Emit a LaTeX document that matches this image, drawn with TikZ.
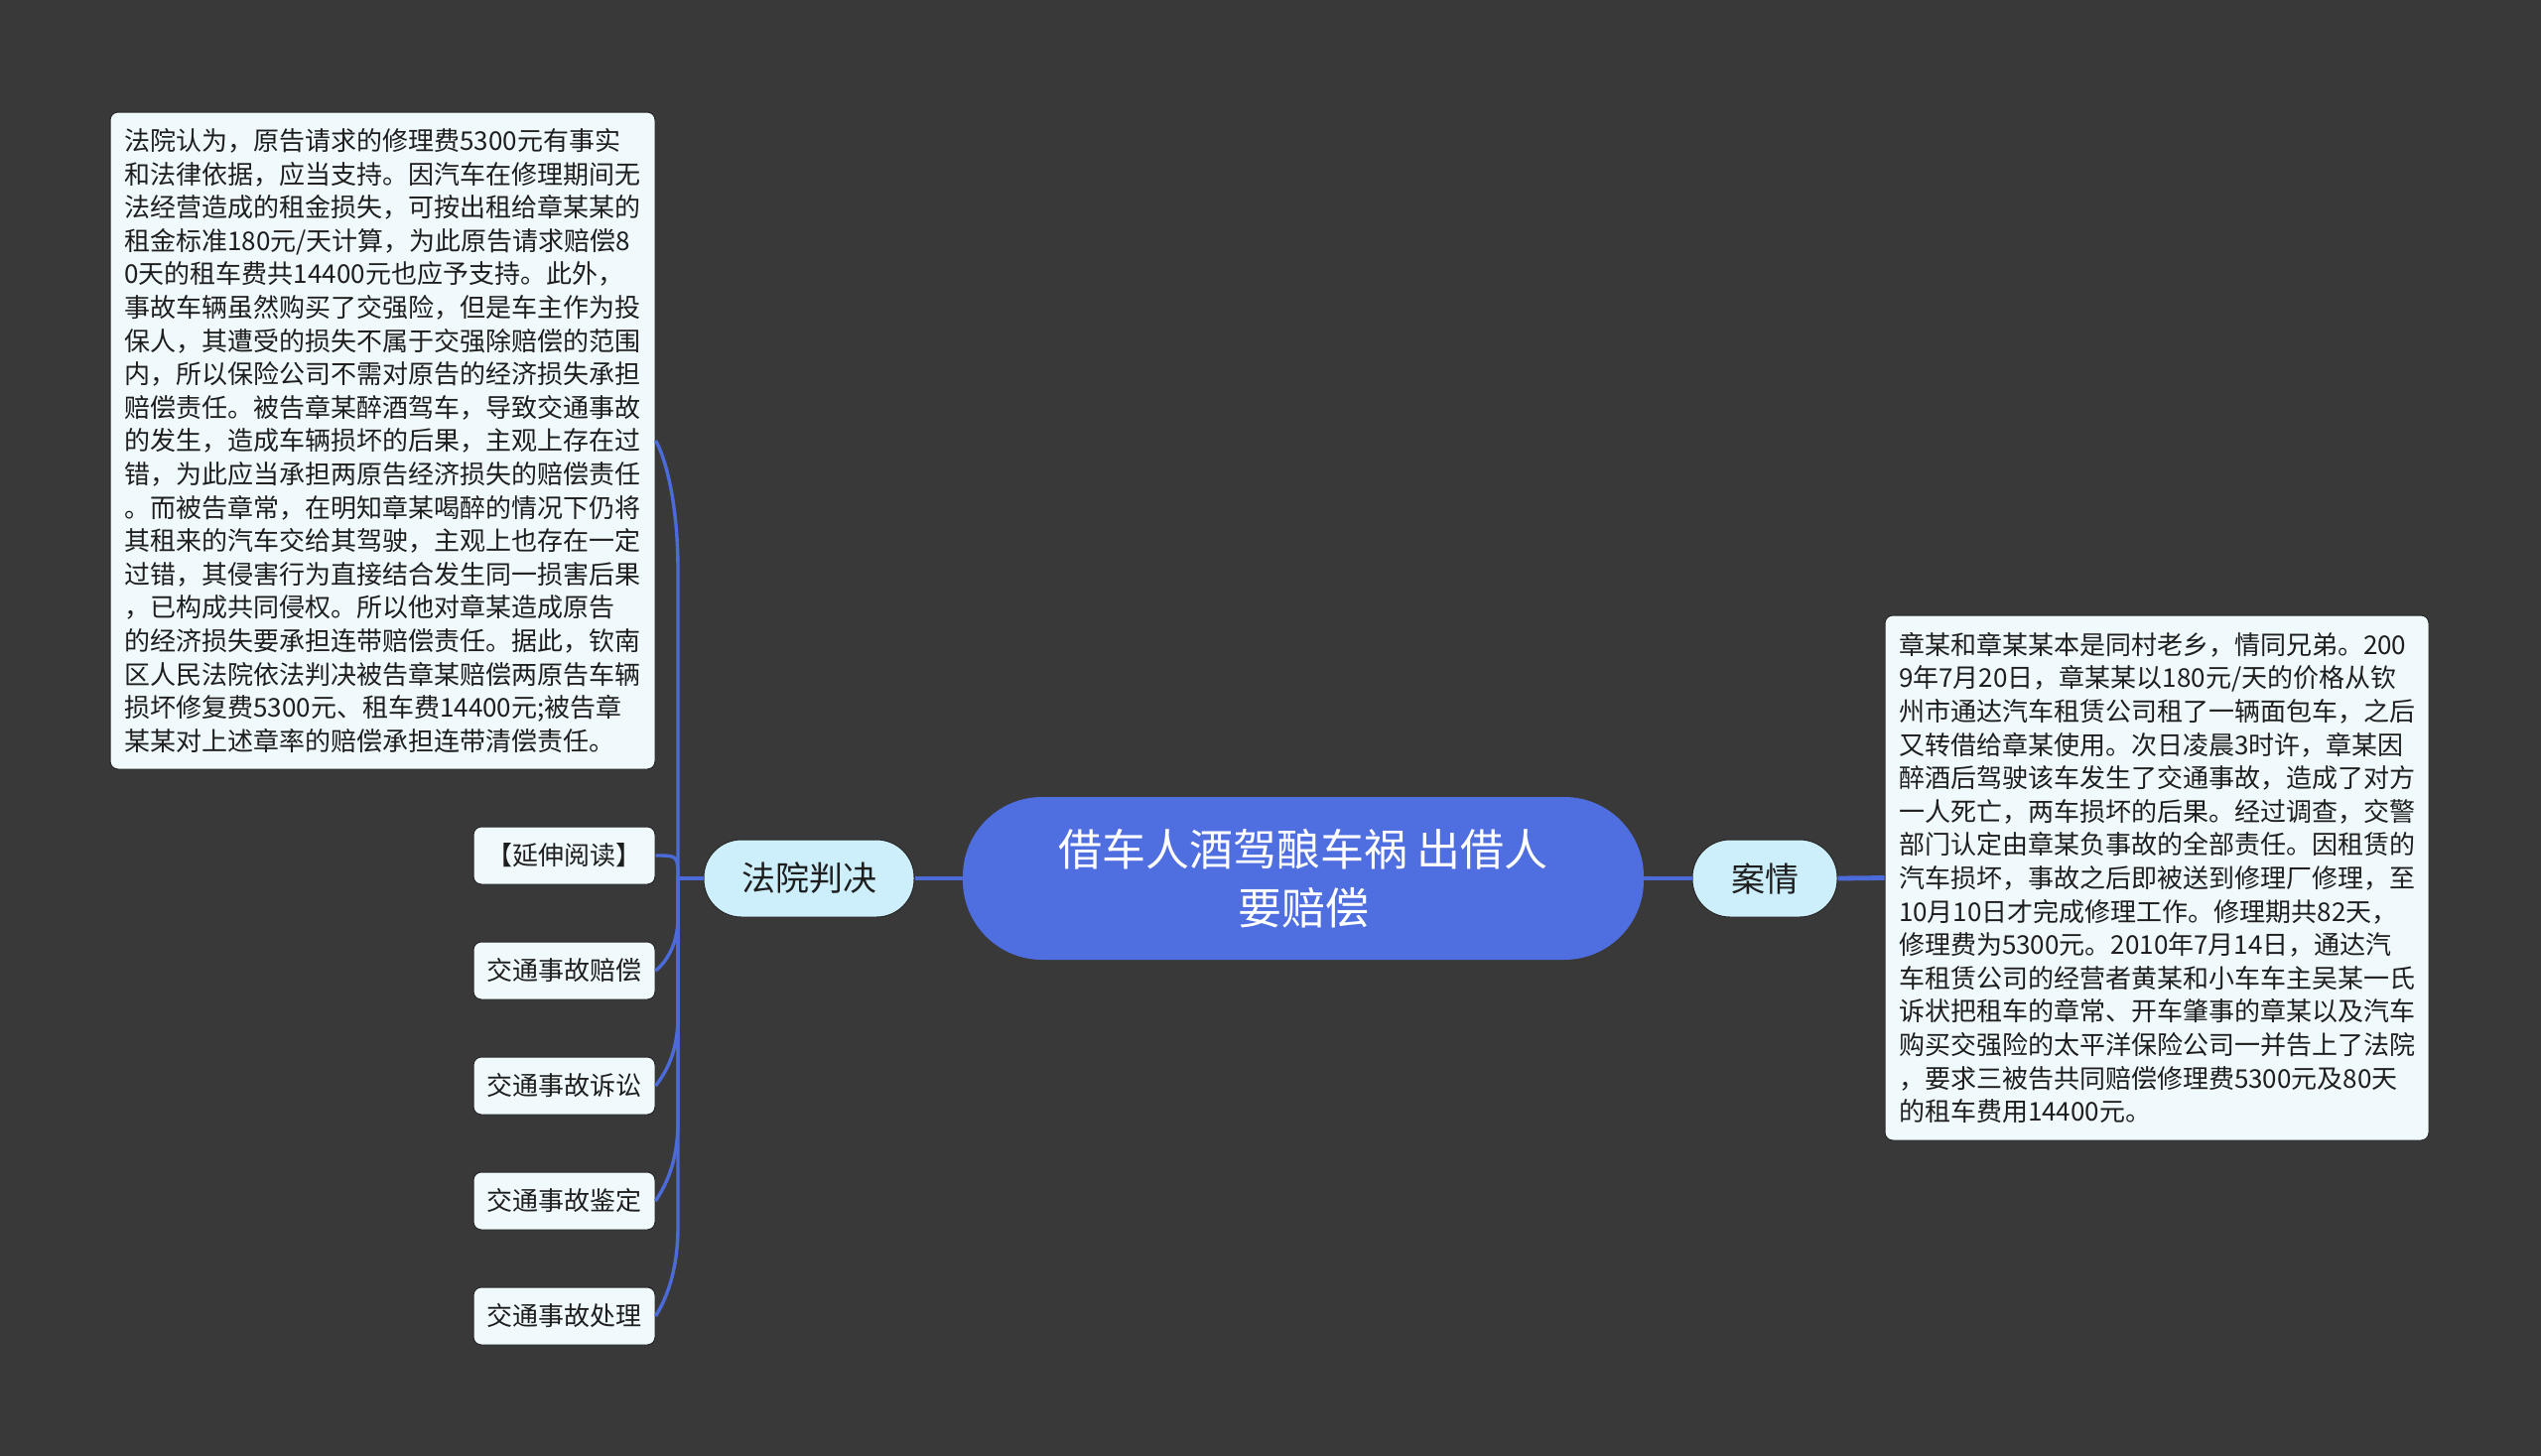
\documentclass[tikz,border=0pt]{standalone}
\usepackage{fontspec}
\setmainfont{Noto Sans CJK SC}
\definecolor{bg}{HTML}{3A393A}
\definecolor{leaffill}{HTML}{F0FAFD}
\definecolor{leafborder}{HTML}{262626}
\definecolor{lonefill}{HTML}{CDEFFC}
\definecolor{rootfill}{HTML}{4F6EE0}
\definecolor{connc}{HTML}{4B6BDB}
\definecolor{textc}{HTML}{1E1E1E}
\begin{document}
\begin{tikzpicture}[x=0.5pt,y=-0.5pt,
  leafbox/.style={draw=leafborder, line width=0.5pt, fill=leaffill, rounded corners=4pt,
    inner sep=0pt, minimum width=91.5pt, minimum height=29pt,
    font=\fontsize{13}{16.8}\selectfont, text=textc},
  bigbox/.style={leafbox, align=left},
  lonebox/.style={draw=leafborder, line width=0.5pt, fill=lonefill, rounded corners=19pt,
    minimum height=39pt, inner sep=0pt, font=\fontsize{17}{20}\selectfont, text=textc},
  rootbox/.style={fill=rootfill, rounded corners=40pt, minimum width=343pt, minimum height=82pt,
    inner sep=0pt, text=white, align=center, font=\fontsize{22}{29.5}\selectfont},
  mainconn/.style={draw=connc, line width=2.4pt},
  subconn/.style={draw=connc, line width=1.7pt}]
\fill[bg] (0,0) rectangle (2560,1467);
\useasboundingbox (0,0) rectangle (2560,1467);

\coordinate (bus) at (683,885);

\node[rootbox] (root) at (1313,885) {借车人酒驾酿车祸 出借人\\要赔偿};
\node[lonebox, minimum width=106pt] (fa) at (815,885) {法院判决};
\node[lonebox, minimum width=73pt] (an) at (1778,885) {案情};

\node[bigbox, minimum width=274.5pt, minimum height=331pt] (c0) at (385.5,444) {法院认为，原告请求的修理费5300元有事实\\
和法律依据，应当支持。因汽车在修理期间无\\
法经营造成的租金损失，可按出租给章某某的\\
租金标准180元/天计算，为此原告请求赔偿8\\
0天的租车费共14400元也应予支持。此外，\\
事故车辆虽然购买了交强险，但是车主作为投\\
保人，其遭受的损失不属于交强除赔偿的范围\\
内，所以保险公司不需对原告的经济损失承担\\
赔偿责任。被告章某醉酒驾车，导致交通事故\\
的发生，造成车辆损坏的后果，主观上存在过\\
错，为此应当承担两原告经济损失的赔偿责任\\
。而被告章常，在明知章某喝醉的情况下仍将\\
其租来的汽车交给其驾驶，主观上也存在一定\\
过错，其侵害行为直接结合发生同一损害后果\\
，已构成共同侵权。所以他对章某造成原告\\
的经济损失要承担连带赔偿责任。据此，钦南\\
区人民法院依法判决被告章某赔偿两原告车辆\\
损坏修复费5300元、租车费14400元;被告章\\
某某对上述章率的赔偿承担连带清偿责任。};

\node[leafbox] (c1) at (568.5,862) {【延伸阅读】};
\node[leafbox] (c2) at (568.5,978) {交通事故赔偿};
\node[leafbox] (c3) at (568.5,1094) {交通事故诉讼};
\node[leafbox] (c4) at (568.5,1210) {交通事故鉴定};
\node[leafbox] (c5) at (568.5,1326) {交通事故处理};

\node[bigbox, minimum width=274pt, minimum height=264.5pt] (rt) at (2173,884.5) {章某和章某某本是同村老乡，情同兄弟。200\\
9年7月20日，章某某以180元/天的价格从钦\\
州市通达汽车租赁公司租了一辆面包车，之后\\
又转借给章某使用。次日凌晨3时许，章某因\\
醉酒后驾驶该车发生了交通事故，造成了对方\\
一人死亡，两车损坏的后果。经过调查，交警\\
部门认定由章某负事故的全部责任。因租赁的\\
汽车损坏，事故之后即被送到修理厂修理，至\\
10月10日才完成修理工作。修理期共82天，\\
修理费为5300元。2010年7月14日，通达汽\\
车租赁公司的经营者黄某和小车车主吴某一氏\\
诉状把租车的章常、开车肇事的章某以及汽车\\
购买交强险的太平洋保险公司一并告上了法院\\
，要求三被告共同赔偿修理费5300元及80天\\
的租车费用14400元。};

% main links
\draw[mainconn] (root.west) -- (fa.east);
\draw[mainconn] (root.east) -- (an.west);
\draw[mainconn] (an.east) -- (rt.west);

% sub links
\draw[subconn] (fa.west) -- (bus) -- (683,574) .. controls (683,500) and (668,456) .. (c0.east);
\draw[subconn] (fa.west) -- (bus) .. controls (683,862) .. (c1.east);
\draw[subconn] (fa.west) -- (bus) -- (683,925) .. controls (683,955) and (668,972) .. (c2.east);
\draw[subconn] (fa.west) -- (bus) -- (683,1024) .. controls (683,1064) and (668,1084) .. (c3.east);
\draw[subconn] (fa.west) -- (bus) -- (683,1130) .. controls (683,1175) and (668,1198) .. (c4.east);
\draw[subconn] (fa.west) -- (bus) -- (683,1236) .. controls (683,1286) and (668,1314) .. (c5.east);
\end{tikzpicture}
\end{document}
